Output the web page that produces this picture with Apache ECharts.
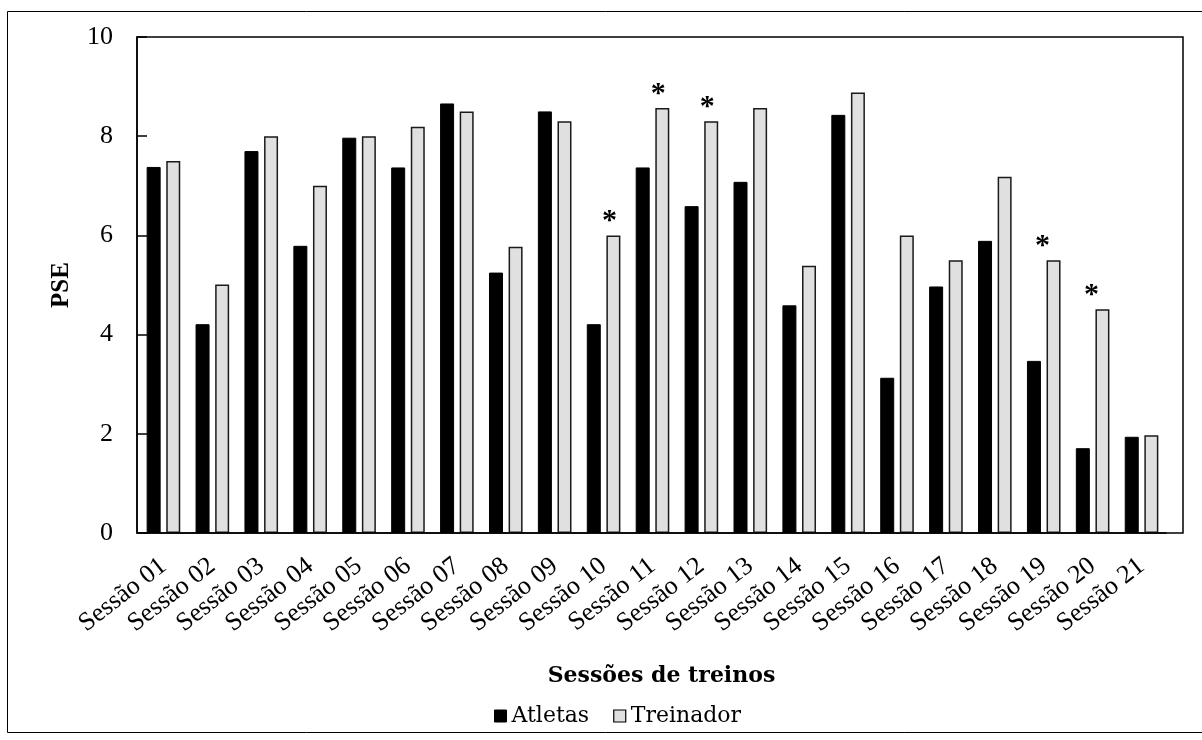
<!DOCTYPE html>
<html><head><meta charset="utf-8">
<script src="https://cdn.jsdelivr.net/npm/echarts@6/dist/echarts.min.js"></script>
<style>html,body{margin:0;padding:0;background:#fff}#c{width:1202px;height:740px}</style>
</head><body><div id="c"></div>
<script>
const categories = ['Sessão 01','Sessão 02','Sessão 03','Sessão 04','Sessão 05','Sessão 06','Sessão 07','Sessão 08','Sessão 09','Sessão 10','Sessão 11','Sessão 12','Sessão 13','Sessão 14','Sessão 15','Sessão 16','Sessão 17','Sessão 18','Sessão 19','Sessão 20','Sessão 21'];
const atletas = [7.38,4.21,7.7,5.79,7.97,7.37,8.66,5.25,8.5,4.21,7.37,6.59,7.08,4.59,8.43,3.13,4.97,5.89,3.47,1.71,1.94];
const treinador = [7.5,5.01,8.0,7.0,8.0,8.19,8.5,5.77,8.3,6.0,8.57,8.3,8.57,5.39,8.88,6.0,5.5,7.18,5.5,4.51,1.97];
const significant = ['Sessão 10','Sessão 11','Sessão 12','Sessão 19','Sessão 20'];
const yTicks = [0,2,4,6,8,10];

const serif = '"Liberation Serif","Times New Roman",serif';
const wide = '"DejaVu Serif",serif';
// hand placement of the asterisks in the original (style only)
const starShift = {'Sessão 19':-11,'Sessão 20':-11};
const chart = echarts.init(document.getElementById('c'), null, {renderer:'canvas'});
chart.setOption({
  animation:false,
  backgroundColor:'#fff',
  graphic:[
    {type:'rect',z:100,shape:{x:7.5,y:11.5,width:1230,height:721},style:{fill:'none',stroke:'#000',lineWidth:1}},
    {type:'rect',z:100,shape:{x:137,y:37,width:1046,height:496},style:{fill:'none',stroke:'#000',lineWidth:1.5}}
  ],
  grid:{left:139,right:36,top:37,bottom:207,show:false},
  legend:{data:[{name:'Atletas',itemStyle:{color:'#000',borderColor:'#000',borderWidth:1}},
                {name:'Treinador',itemStyle:{color:'#e0e0e0',borderColor:'#000',borderWidth:1.2}}],
    icon:'rect',left:489,top:700,itemWidth:12,itemHeight:12,itemGap:24,
    textStyle:{fontFamily:wide,fontSize:22,color:'#000',padding:[0,0,0,0]}},
  xAxis:{type:'category',data:categories,
    name:'Sessões de treinos',nameLocation:'middle',nameGap:132,
    nameTextStyle:{fontFamily:wide,fontSize:22,fontWeight:'bold',color:'#000',padding:[0,0,0,18]},
    axisLine:{lineStyle:{color:'#000',width:1.5}},axisTick:{show:false},
    axisLabel:{rotate:38,interval:0,fontFamily:serif,fontSize:26,color:'#000',margin:30}},
  yAxis:{type:'value',min:yTicks[0],max:yTicks[yTicks.length-1],interval:2,offset:2,
    name:'PSE',nameLocation:'middle',nameGap:63,nameRotate:90,
    nameTextStyle:{fontFamily:serif,fontSize:25,fontWeight:'bold',color:'#000'},
    axisLine:{show:true,lineStyle:{color:'#000',width:1.5}},
    axisTick:{show:true,inside:true,length:10,lineStyle:{color:'#000',width:1.5}},
    splitLine:{show:false},
    axisLabel:{fontFamily:serif,fontSize:26,color:'#000',margin:24}},
  series:[
    {name:'Atletas',type:'bar',data:atletas,barWidth:14,barGap:'40%',
     itemStyle:{color:'#000',borderColor:'#000',borderWidth:1}},
    {name:'Treinador',type:'bar',barWidth:14,
     data:treinador.map((v,i)=>{
       const c = categories[i];
       const sig = significant.includes(c);
       return {value:v,label:{show:sig,offset:[(starShift[c]||-4),-1]}};
     }),
     itemStyle:{color:'#e0e0e0',borderColor:'#1a1a1a',borderWidth:1.5},
     label:{show:false,position:'top',formatter:'*',fontFamily:serif,fontSize:30,fontWeight:'bold',color:'#000',distance:-2}}
  ]
});
</script></body></html>
